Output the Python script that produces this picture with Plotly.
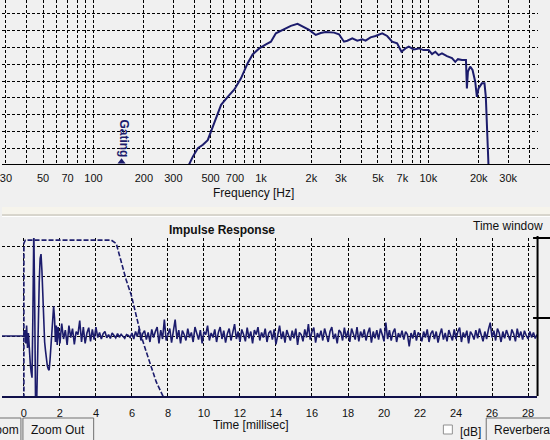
import numpy as np
import plotly.graph_objects as go

# frequency response (Hz, dB)
freq_hz = [371, 392, 420, 450, 481, 527, 578, 633, 694, 760, 833, 892, 977, 1071,
           1147, 1228, 1409, 1509, 1654, 1770, 1940, 2126, 2275, 2437, 2732, 2926,
           3133, 3281, 3513, 3762, 4029, 4217, 4516, 4836, 5301, 5675, 6077, 6509,
           6908, 7300, 7636, 8180, 8760, 9378, 10040, 10520, 11010, 11515, 12060,
           12920, 13840, 14480, 15020, 15870, 16770, 16990, 17230, 17780, 18360,
           19050, 19490, 19940, 20870, 21640, 22040, 22860, 23100]
level_db = [40.0, 42.5, 45.0, 46.0, 47.4, 52.4, 57.9, 60.3, 62.5, 65.8, 70.3, 72.9,
            74.7, 75.9, 76.7, 79.2, 80.7, 81.4, 82.0, 81.2, 80.2, 78.7, 79.3, 79.6,
            79.4, 78.9, 76.7, 77.0, 77.7, 77.0, 77.4, 77.0, 78.0, 78.4, 79.2, 78.4,
            76.7, 76.2, 73.7, 74.7, 75.2, 74.4, 74.7, 74.2, 74.2, 73.0, 73.7, 72.7,
            73.2, 72.4, 71.8, 70.7, 71.5, 71.25, 71.25, 62.8, 67.8, 69.3, 68.3, 64.8,
            60.3, 62.8, 64.3, 64.3, 60.3, 40.0, 35.0]

freq_ticks = [30, 40, 50, 60, 70, 80, 90, 100, 200, 300, 400, 500, 600, 700, 800, 900,
              1000, 2000, 3000, 4000, 5000, 6000, 7000, 8000, 9000, 10000, 20000, 30000, 40000]
freq_labels = ["30", "", "50", "", "70", "", "", "100", "200", "300", "", "500", "", "700", "", "",
               "1k", "2k", "3k", "", "5k", "", "7k", "", "", "10k", "20k", "30k", ""]
gating_hz = 147

# impulse response: onset (ms, value) then noise tail sampled every 0.1 ms
onset_ms = [-1.22, 0.0, 0.05, 0.1, 0.15, 0.2, 0.25, 0.3, 0.35, 0.4, 0.45, 0.5, 0.55, 0.6,
            0.65, 0.7, 0.75, 0.8, 0.85, 0.9, 0.95, 1.0, 1.05, 1.1, 1.15, 1.2, 1.25, 1.3,
            1.35, 1.4, 1.45, 1.5, 1.55, 1.6, 1.65, 1.7, 1.75, 1.8, 1.85]
onset_val = [0, 0, 0.2, -0.25, 0.35, -0.4, 0.1, -0.6, -0.9, -1.2, -1.4, 0.8, 3.6, 1.0,
             -2.5, -2.5, -0.6, 0.8, 1.8, 2.6, 2.75, 2.2, 1.2, 0.4, -0.2, -0.5, -0.8, -1.0,
             -1.1, -1.15, -0.8, -0.3, 0.3, 0.7, 1.0, 0.6, -0.2, 0.35, -0.3]
tail_start_ms = 1.9
tail_step_ms = 0.1
tail_val = [
    0.30, -0.25, 0.42, -0.10, 0.20, -0.30, 0.35, -0.05, 0.25, -0.28,
    0.15, 0.05, 0.52, -0.20, 0.30, -0.25, 0.10, 0.28, -0.18, 0.22,
    -0.12, 0.30, -0.05, 0.12, -0.10, 0.08, 0.15, -0.06, 0.05, -0.08,
    0.10, 0.02, -0.06, 0.08, -0.04, 0.06, 0.00, -0.08, 0.05, 0.02,
    -0.05, 0.10, -0.10, 0.15, -0.02, 0.25, -0.15, 0.08, 0.18, -0.12,
    0.12, -0.20, 0.22, -0.05, 0.15, 0.30, -0.25, 0.20, -0.10, 0.55,
    -0.15, 0.10, 0.25, -0.22, 0.15, 0.55, -0.10, 0.20, -0.25, 0.18,
    0.05, -0.15, 0.25, -0.05, 0.12, -0.20, 0.30, 0.08, -0.12, 0.20,
    -0.25, 0.15, 0.05, 0.35, -0.15, 0.10, -0.05, 0.22, -0.20, 0.12,
    0.30, -0.10, 0.18, -0.22, 0.08, 0.25, -0.15, 0.12, 0.40, -0.10,
    0.15, -0.20, 0.22, 0.05, -0.18, 0.28, -0.08, 0.15, -0.25, 0.20,
    0.05, 0.30, -0.15, 0.12, -0.05, 0.25, -0.20, 0.10, 0.18, -0.12,
    0.22, -0.28, 0.10, 0.35, -0.10, 0.15, -0.22, 0.20, 0.02, -0.15,
    0.18, -0.08, 0.25, -0.30, 0.12, 0.05, -0.18, 0.22, -0.05, 0.40,
    -0.12, 0.15, 0.28, -0.22, 0.10, -0.05, 0.18, -0.15, 0.25, 0.02,
    -0.20, 0.15, 0.30, -0.10, 0.08, -0.25, 0.20, 0.12, -0.15, 0.28,
    -0.08, 0.18, -0.20, 0.25, 0.05, -0.12, 0.30, -0.18, 0.15, -0.05,
    0.22, -0.15, 0.10, 0.28, -0.22, 0.15, -0.08, 0.20, -0.12, 0.25,
    0.05, -0.18, 0.45, -0.10, 0.20, -0.15, 0.12, 0.25, -0.20, 0.10,
    -0.05, 0.18, -0.12, 0.15, 0.05, -0.35, 0.10, -0.08, 0.20, -0.15,
    0.12, 0.02, -0.18, 0.15, -0.05, 0.22, -0.20, 0.08, 0.18, -0.10,
    0.15, -0.22, 0.05, 0.25, -0.12, 0.10, -0.18, 0.20, 0.02, -0.15,
    0.22, -0.10, 0.15, 0.28, -0.20, 0.12, -0.05, 0.18, -0.25, 0.15,
    0.05, -0.12, 0.20, -0.08, 0.25, 0.02, -0.18, 0.15, -0.10, 0.22,
    0.45, -0.05, 0.18, -0.15, 0.25, 0.10, -0.20, 0.15, -0.08, 0.20,
    0.05, -0.15, 0.22, 0.08, -0.18, 0.25, -0.05, 0.15, -0.12, 0.18,
    0.02, -0.10, 0.15, -0.05, 0.12, -0.08, 0.05]

# time window (dashed)
window_ms = [0.0, 0.0, 0.08, 4.85, 5.13, 5.4, 5.68, 5.96, 6.24, 6.5, 6.8, 7.07, 7.35, 7.63, 7.75]
window_val = [-2.1, 3.12, 3.22, 3.22, 3.1, 2.48, 1.88, 1.38, 0.64, 0.03, -0.54, -1.07, -1.54, -1.9, -2.05]

W, H = 550, 440
NAVY = "#1c1c6c"
BG = "#f0f0f0"
FONT = "Liberation Sans"


def px(x):
    return x / W


def py(y):
    return 1 - y / H


tail_ms = tail_start_ms + tail_step_ms * np.arange(len(tail_val))
imp_ms = list(onset_ms) + list(tail_ms)
imp_val = list(onset_val) + list(tail_val)

fig = go.Figure()

fig.add_trace(go.Scatter(x=freq_hz, y=level_db, mode="lines", xaxis="x", yaxis="y",
                         line=dict(color=NAVY, width=2), hoverinfo="skip"))
fig.add_trace(go.Scatter(x=[gating_hz], y=[41.0], mode="markers", xaxis="x", yaxis="y",
                         marker=dict(symbol="triangle-up", size=7, color=NAVY),
                         cliponaxis=False, hoverinfo="skip"))
fig.add_trace(go.Scatter(x=imp_ms, y=imp_val, mode="lines", xaxis="x2", yaxis="y2",
                         line=dict(color=NAVY, width=1.6), hoverinfo="skip"))
fig.add_trace(go.Scatter(x=window_ms, y=window_val, mode="lines", xaxis="x2", yaxis="y2",
                         line=dict(color=NAVY, width=1.6, dash="5px,2px"), hoverinfo="skip"))

grid = dict(showgrid=True, gridcolor="black", gridwidth=1, griddash="3px,2px",
            zeroline=False, fixedrange=True)

fig.update_layout(
    width=W, height=H, margin=dict(l=0, r=0, t=0, b=0),
    paper_bgcolor=BG, plot_bgcolor=BG, showlegend=False,
    font=dict(family=FONT, size=11, color="#111"),
    xaxis=dict(grid, type="log", domain=[0, px(538)], anchor="y",
               range=[np.log10(28.4), np.log10(45200)],
               tickmode="array", tickvals=freq_ticks, ticktext=freq_labels,
               showline=False, ticks="", ticklabelstandoff=5, ticklabeloverflow="allow"),
    yaxis=dict(grid, domain=[py(165), 1], anchor="x", range=[40, 89.11],
               tick0=40, dtick=5, showticklabels=False, showline=False, ticks=""),
    xaxis2=dict(grid, domain=[0, px(537)], anchor="y2", range=[-1.2175, 28.5],
                tick0=0, dtick=2, showline=True, linecolor="#10104a", linewidth=2,
                ticks="", ticklabelstandoff=6, ticklabeloverflow="allow"),
    yaxis2=dict(grid, domain=[py(396), py(238)], anchor="x2", range=[-2.013, 3.29],
                tick0=0, dtick=1, showticklabels=False, showline=False, ticks=""),
)

shapes = [
    # top baseline across the full width
    dict(type="line", xref="paper", yref="y", x0=0, x1=1, y0=40, y1=40,
         line=dict(color="black", width=2)),
    # separator between panels
    dict(type="rect", xref="paper", yref="paper", x0=0, x1=1, y0=py(214.5), y1=py(207),
         fillcolor="#f6f4ec", line=dict(width=0), layer="below"),
    dict(type="line", xref="paper", yref="paper", x0=0, x1=1, y0=py(215), y1=py(215),
         line=dict(color="#bdb9aa", width=1)),
    dict(type="line", xref="paper", yref="paper", x0=0, x1=1, y0=py(216.5), y1=py(216.5),
         line=dict(color="#ffffff", width=1)),
    # time window axis on the right
    dict(type="line", xref="paper", yref="paper", x0=px(537.5), x1=px(537.5), y0=py(396), y1=py(236),
         line=dict(color="black", width=2)),
    dict(type="line", xref="paper", yref="paper", x0=px(533), x1=1, y0=py(238), y1=py(238),
         line=dict(color="black", width=2)),
    dict(type="line", xref="paper", yref="paper", x0=px(533), x1=1, y0=py(318), y1=py(318),
         line=dict(color="black", width=2)),
    # buttons and checkbox
    dict(type="rect", xref="paper", yref="paper", x0=px(-10), x1=px(19), y0=py(442), y1=py(418),
         fillcolor=BG, line=dict(color="#707070", width=1)),
    dict(type="rect", xref="paper", yref="paper", x0=px(21), x1=px(92), y0=py(442), y1=py(418),
         fillcolor=BG, line=dict(color="#707070", width=1)),
    dict(type="rect", xref="paper", yref="paper", x0=px(443), x1=px(452), y0=py(434), y1=py(425),
         fillcolor="#ffffff", line=dict(color="#909090", width=1)),
    dict(type="rect", xref="paper", yref="paper", x0=px(486), x1=px(556), y0=py(442), y1=py(418),
         fillcolor=BG, line=dict(color="#707070", width=1)),
]
fig.update_layout(shapes=shapes)

ann = [
    dict(text="Frequency [Hz]", x=px(252), y=py(193), font=dict(size=12)),
    dict(text="<b>Gating</b>", x=px(122), y=py(138), textangle=90,
         font=dict(size=12, color=NAVY)),
    dict(text="<b>Impulse Response</b>", x=px(221), y=py(230), font=dict(size=12)),
    dict(text="Time window", x=px(508), y=py(226), font=dict(size=12)),
    dict(text="Time [millisec]", x=px(250), y=py(425), font=dict(size=12)),
    dict(text="Zoom", x=px(19), y=py(430), xanchor="right", font=dict(size=12)),
    dict(text="Zoom Out", x=px(56.5), y=py(430), font=dict(size=12)),
    dict(text="[dB]", x=px(470), y=py(432), font=dict(size=12)),
    dict(text="Reverberation", x=px(492), y=py(430), xanchor="left", font=dict(size=12)),
]
for a in ann:
    a.setdefault("xanchor", "center")
    fig.add_annotation(xref="paper", yref="paper", showarrow=False, yanchor="middle", **a)

fig.write_html("out.html", config={"displayModeBar": False},
               post_script="document.body.style.margin='0';document.body.style.padding='0';")
